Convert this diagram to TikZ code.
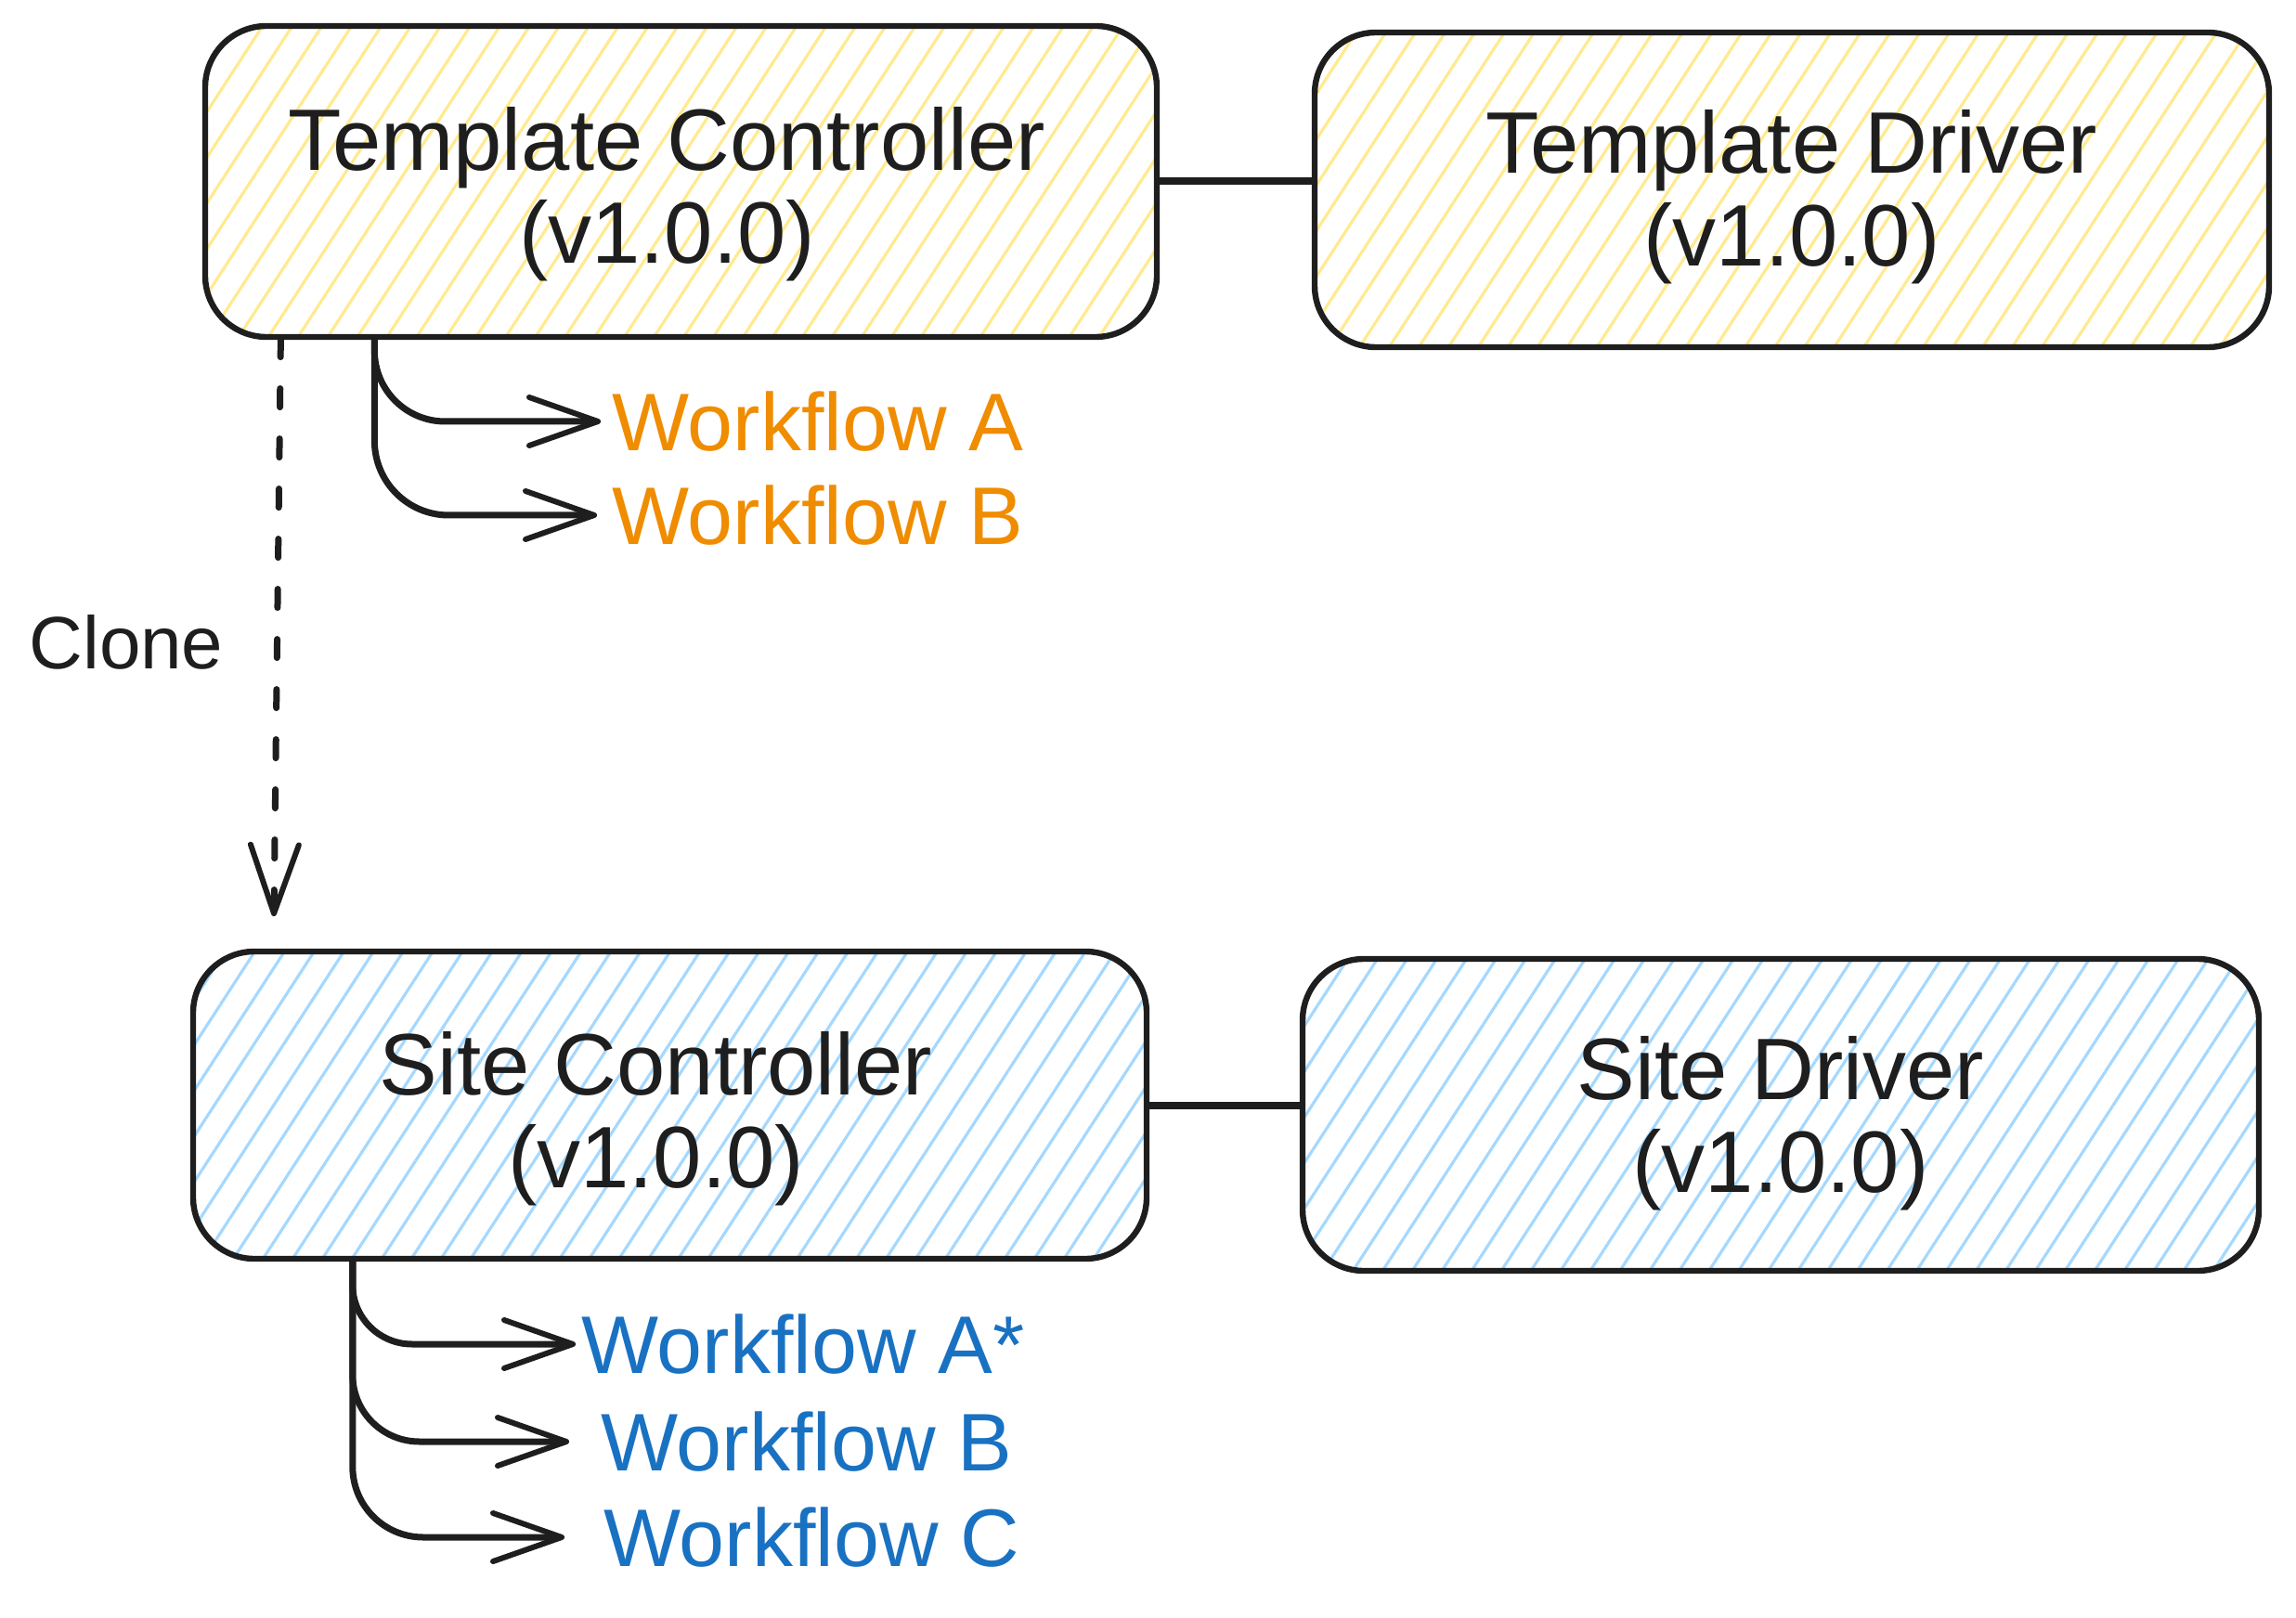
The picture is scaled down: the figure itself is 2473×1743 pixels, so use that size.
\documentclass[tikz,border=0pt]{standalone}
\usepackage{fontspec}
\setmainfont{Liberation Sans}
\usetikzlibrary{arrows.meta,patterns.meta,calc}
\definecolor{ink}{HTML}{1E1E1E}
\definecolor{hatchY}{HTML}{FFEA90}
\definecolor{hatchB}{HTML}{A5D8FF}
\definecolor{orangeT}{HTML}{F08C00}
\definecolor{blueT}{HTML}{1971C2}
\newcommand{\padR}{\hspace*{15pt}}
\begin{document}
\begin{tikzpicture}[x=0.5pt,y=-0.5pt,
  box/.style={draw=ink, line width=3.2pt, rounded corners=33pt, align=center,
    font=\fontsize{47}{50}\selectfont, text=ink, inner sep=0pt},
  yhatch/.style={pattern={Lines[angle=57,distance=13.4pt,line width=1.6pt]}, pattern color=hatchY},
  bhatch/.style={pattern={Lines[angle=57,distance=13.4pt,line width=1.6pt]}, pattern color=hatchB},
  wf/.style={font=\fontsize{44}{48}\selectfont, anchor=west, inner sep=0pt},
  link/.style={draw=ink, line width=4pt, line cap=round},
  arr/.style={draw=ink, line width=3.5pt, line cap=round,
    -{Straight Barb[length=37pt,width=26pt,round,line width=3pt]}},
  dasharr/.style={arr, dash pattern=on 10pt off 17pt}
]
\useasboundingbox (0,0) rectangle (2473,1743);

% boxes
\node[box, yhatch, minimum width=512.5pt, minimum height=167.5pt] (TC) at (733.5,195.5)
  {\rule{0pt}{47.5pt}Template Controller\padR\\(v1.0.0)\padR};
\node[box, yhatch, minimum width=514pt, minimum height=169.5pt] (TD) at (1930,204.5)
  {\rule{0pt}{41.5pt}Template Driver\\(v1.0.0)};
\node[box, bhatch, minimum width=513.5pt, minimum height=165.5pt] (SC) at (721.5,1190.5)
  {\rule{0pt}{48.5pt}Site Controller\padR\\(v1.0.0)\padR};
\node[box, bhatch, minimum width=515pt, minimum height=168pt] (SD) at (1918,1201)
  {\rule{0pt}{43.5pt}Site Driver\\(v1.0.0)};

% horizontal links
\draw[link] (TC.east) -- (TC.east -| TD.west);
\draw[link] (SC.east) -- (SC.east -| SD.west);

% clone arrow
\coordinate (cs) at ($(TC.south west)+(83,0)$);
\coordinate (ce) at (295,987);
\draw[dasharr] (cs) -- (ce);
\node[font=\fontsize{40}{44}\selectfont, text=ink, inner sep=0pt] (clone) at (136,692) {Clone};

% template workflows
\node[wf, text=orangeT] (wfA) at (659,454) {Workflow A};
\node[wf, text=orangeT] (wfB) at (659,555) {Workflow B};
\coordinate (tcs) at ($(TC.south west)+(184,0)$);
\draw[arr, rounded corners=38pt] (tcs) |- ([xshift=-6pt]wfA.west);
\draw[arr, rounded corners=40pt] (tcs) |- ([xshift=-8pt]wfB.west);

% site workflows
\node[wf, text=blueT] (wfAs) at (626,1448) {Workflow A*};
\node[wf, text=blueT] (wfB2) at (647,1553) {Workflow B};
\node[wf, text=blueT] (wfC) at (650,1656) {Workflow C};
\coordinate (scs) at ($(SC.south west)+(175,0)$);
\draw[arr, rounded corners=32pt] (scs) |- ([xshift=-3pt]wfAs.west);
\draw[arr, rounded corners=36pt] (scs) |- ([xshift=-17pt]wfB2.west);
\draw[arr, rounded corners=38pt] (scs) |- ([xshift=-21pt]wfC.west);
\end{tikzpicture}
\end{document}
